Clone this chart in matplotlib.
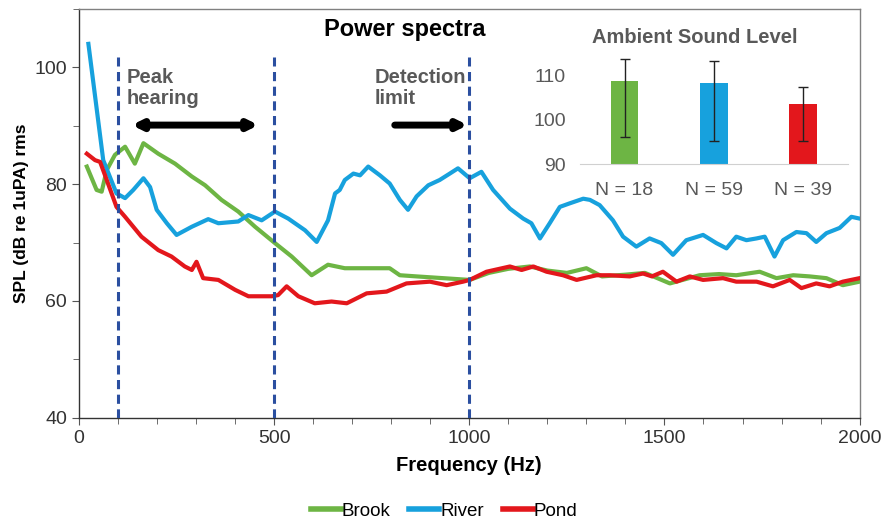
import numpy as np
import matplotlib
matplotlib.use("Agg")
import matplotlib.pyplot as plt
from matplotlib.ticker import MultipleLocator

plt.rcParams['font.family'] = ['Liberation Sans', 'DejaVu Sans']

# spectra
brook_f = [20, 45, 58, 71, 92, 118, 143, 165, 203, 246, 289, 323, 365, 408, 451, 502, 545, 596,
           638, 681, 745, 796, 822, 865, 933, 1001, 1050, 1100, 1155, 1200, 1250, 1300, 1340,
           1400, 1450, 1514, 1590, 1640, 1684, 1744, 1787, 1830, 1872, 1915, 1957, 2000]
brook = [83, 79, 78.7, 82.4, 85, 86.4, 83.5, 87, 85.2, 83.5, 81.3, 79.8, 77.3, 75.3, 72.7, 69.9,
         67.6, 64.4, 66.2, 65.6, 65.6, 65.6, 64.4, 64.2, 63.9, 63.6, 64.8, 65.5, 65.9, 65.2, 64.8,
         65.6, 64.2, 64.5, 64.8, 63, 64.4, 64.6, 64.4, 65, 63.9, 64.4, 64.2, 63.9, 62.7, 63.3]

river_f = [24, 62, 96, 118, 139, 165, 182, 199, 225, 250, 289, 331, 357, 408, 434, 468, 502, 536,
           579, 609, 638, 656, 668, 681, 703, 720, 741, 771, 796, 822, 843, 865, 895, 924, 950,
           971, 1001, 1031, 1061, 1104, 1138, 1159, 1181, 1206, 1232, 1257, 1292, 1309, 1334,
           1368, 1394, 1428, 1462, 1492, 1522, 1556, 1599, 1633, 1659, 1684, 1710, 1736, 1757,
           1782, 1804, 1838, 1864, 1889, 1915, 1949, 1979, 2000]
river = [104, 84.1, 78.4, 77.6, 79, 81, 79.5, 75.6, 73.3, 71.3, 72.7, 74, 73.3, 73.6, 74.7, 73.8,
         75.3, 74.1, 72.1, 70.1, 73.8, 78.4, 79, 80.7, 81.8, 81.5, 83, 81.5, 80.1, 77.3, 75.6,
         77.9, 79.8, 80.7, 81.8, 82.7, 81, 82.1, 79, 75.8, 74.1, 73.3, 70.7, 73.3, 76.1, 76.7,
         77.5, 77.3, 76.4, 73.8, 71, 69.3, 70.7, 69.9, 67.9, 70.4, 71.3, 69.9, 69, 71, 70.4,
         70.7, 71, 67.6, 70.4, 71.8, 71.6, 70.1, 71.6, 72.5, 74.4, 74.1]

pond_f = [20, 41, 54, 71, 96, 118, 160, 203, 237, 271, 289, 301, 318, 357, 400, 434, 494, 510,
          532, 562, 604, 647, 686, 737, 788, 839, 899, 942, 984, 1001, 1044, 1104, 1134, 1164,
          1198, 1240, 1275, 1326, 1360, 1411, 1445, 1468, 1496, 1531, 1565, 1599, 1650, 1684,
          1736, 1778, 1821, 1851, 1889, 1923, 1957, 2000]
pond = [85.2, 84.1, 83.8, 80.7, 76.1, 74.4, 71, 68.7, 67.6, 65.9, 65.3, 66.7, 63.9, 63.6, 61.9,
        60.8, 60.8, 61, 62.5, 60.8, 59.6, 59.9, 59.6, 61.3, 61.6, 63, 63.3, 62.7, 63.3, 63.6, 65,
        65.9, 65.3, 65.9, 65, 64.4, 63.6, 64.4, 64.4, 64.2, 64.7, 64.2, 65, 63.3, 64.2, 63.6,
        63.9, 63.3, 63.3, 62.5, 63.6, 62.2, 63, 62.5, 63.3, 63.9]

marker_freqs = [100, 500, 1000]

# inset: ambient sound level
sites_n = ['N = 18', 'N = 59', 'N = 39']
level_mean = [108.9, 108.5, 103.6]
level_low = [96.2, 95.2, 95.2]
level_high = [113.9, 113.4, 107.5]

c_green = '#6DB544'
c_blue = '#17A1DD'
c_red = '#E3171C'
c_dash = '#2B4FA0'
grey_txt = '#595959'

fig = plt.figure(figsize=(8.88, 5.19), dpi=100)
ax = fig.add_axes([0.089, 0.195, 0.879, 0.788])

ax.plot(brook_f, brook, color=c_green, lw=3, label='Brook', zorder=3)
ax.plot(river_f, river, color=c_blue, lw=3, label='River', zorder=3)
ax.plot(pond_f, pond, color=c_red, lw=3, label='Pond', zorder=4)

for f in marker_freqs:
    ax.plot([f, f], [40, 101.7], color=c_dash, lw=2.2, ls=(0, (3, 1.8)), zorder=5)

ax.set_xlim(0, 2000)
ax.set_ylim(40, 110)
ax.xaxis.set_major_locator(MultipleLocator(500))
ax.xaxis.set_minor_locator(MultipleLocator(100))
ax.yaxis.set_major_locator(MultipleLocator(20))
ax.yaxis.set_minor_locator(MultipleLocator(10))
ax.tick_params(which='both', direction='out', color='#555555', labelsize=14,
               labelcolor='#333333')
ax.tick_params(which='major', length=5)
ax.tick_params(which='minor', length=4)
for s in ax.spines.values():
    s.set_color('#808080')
    s.set_linewidth(1.0)
for s in ['left', 'bottom']:
    ax.spines[s].set_color('#333333')

ax.set_xlabel('Frequency (Hz)', fontsize=14.5, fontweight='bold', labelpad=7)
ax.set_ylabel('SPL (dB re 1uPA) rms', fontsize=12.5, fontweight='bold', labelpad=4)
ax.text(0.417, 0.95, 'Power spectra', transform=ax.transAxes, ha='center', va='center',
        fontsize=17, fontweight='bold')

ax.text(123, 99.8, 'Peak\nhearing', ha='left', va='top', fontsize=14.5, fontweight='bold',
        color=grey_txt, linespacing=1.1)
ax.text(758, 99.8, 'Detection\nlimit', ha='left', va='top', fontsize=14.5, fontweight='bold',
        color=grey_txt, linespacing=1.1)
ax.annotate('', xy=(135, 90.1), xytext=(460, 90.1),
            arrowprops=dict(arrowstyle='<|-|>', color='black', lw=5, mutation_scale=13,
                            shrinkA=0, shrinkB=0))
ax.annotate('', xy=(996, 90.1), xytext=(809, 90.1),
            arrowprops=dict(arrowstyle='-|>', color='black', lw=5, mutation_scale=13,
                            shrinkA=0, shrinkB=0))

leg = fig.legend(loc='center', bbox_to_anchor=(0.5, 0.015), ncol=3, frameon=False, fontsize=13.5,
                 handlelength=1.6, handletextpad=0.05, columnspacing=1.0)
for h in leg.get_lines():
    h.set_linewidth(4)

# inset bar chart
ins = fig.add_axes([0.653, 0.684, 0.302, 0.212])
x = np.arange(len(sites_n))
err = [np.array(level_mean) - np.array(level_low), np.array(level_high) - np.array(level_mean)]
ins.bar(x, np.array(level_mean) - 90, bottom=90, width=0.31,
        color=[c_green, c_blue, c_red], zorder=2)
ins.errorbar(x, level_mean, yerr=err, fmt='none', ecolor='#222222', elinewidth=1,
             capsize=3.5, capthick=1, zorder=3)
ins.set_xlim(-0.5, 2.5)
ins.set_ylim(90, 115)
ins.set_yticks([90, 100, 110])
ins.set_xticks(x)
ins.set_xticklabels(sites_n)
ins.tick_params(length=0, labelsize=14, labelcolor=grey_txt, pad=13)
ins.tick_params(axis='y', pad=10)
ins.patch.set_alpha(0)
for s in ['left', 'right', 'top']:
    ins.spines[s].set_visible(False)
ins.spines['bottom'].set_color('#d0d0d0')
ins.text(0.43, 1.06, 'Ambient Sound Level', transform=ins.transAxes, ha='center', va='bottom',
         fontsize=14.5, fontweight='bold', color=grey_txt)

fig.savefig('out.png', dpi=100)
